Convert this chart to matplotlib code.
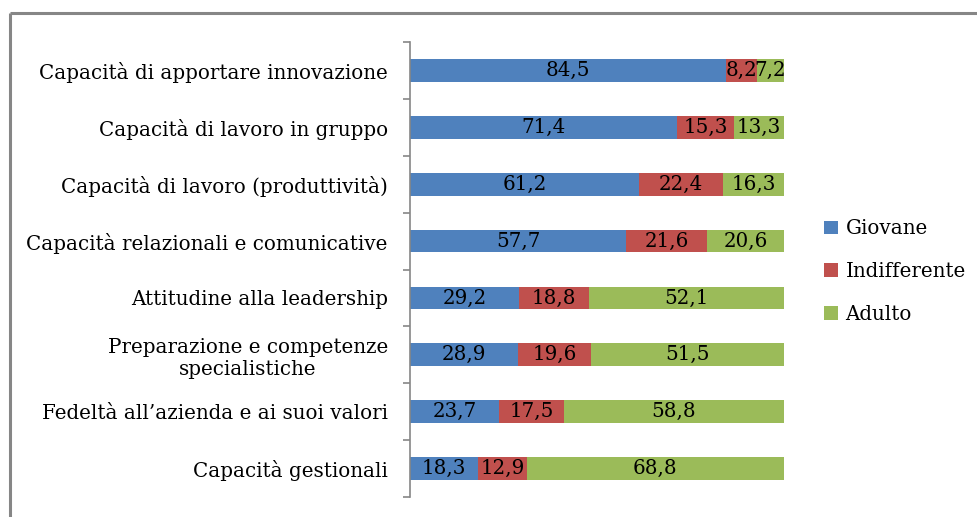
import numpy as np
import matplotlib
matplotlib.use("Agg")
import matplotlib.pyplot as plt
from matplotlib.lines import Line2D

# categories, top to bottom
categories = [
    "Capacità di apportare innovazione",
    "Capacità di lavoro in gruppo",
    "Capacità di lavoro (produttività)",
    "Capacità relazionali e comunicative",
    "Attitudine alla leadership",
    "Preparazione e competenze\nspecialistiche",
    "Fedeltà all’azienda e ai suoi valori",
    "Capacità gestionali",
]
giovane = [84.5, 71.4, 61.2, 57.7, 29.2, 28.9, 23.7, 18.3]
indifferente = [8.2, 15.3, 22.4, 21.6, 18.8, 19.6, 17.5, 12.9]
adulto = [7.2, 13.3, 16.3, 20.6, 52.1, 51.5, 58.8, 68.8]

series_names = ["Giovane", "Indifferente", "Adulto"]
colors = ["#4F81BD", "#C0504D", "#9BBB59"]

plt.rcParams['font.family'] = ['DejaVu Serif']
FS = 14.3

fig = plt.figure(figsize=(9.77, 5.17), dpi=100)
ax = fig.add_axes([410 / 977, 1 - 497 / 517, (784 - 410) / 977, (497 - 42) / 517])

# chart area frame (only top and left edges visible in the reference)
fig.add_artist(Line2D([10 / 977, 10 / 977], [0, 1 - 13 / 517], transform=fig.transFigure,
                      color="#868686", linewidth=2.2, solid_capstyle="butt"))
fig.add_artist(Line2D([10 / 977, 1], [1 - 13 / 517, 1 - 13 / 517], transform=fig.transFigure,
                      color="#868686", linewidth=2.2, solid_capstyle="butt"))

data = np.array([giovane, indifferente, adulto])
totals = data.sum(axis=0)
shares = data / totals * 100  # 100% stacked

y = np.arange(len(categories))
left = np.zeros(len(categories))
for i, name in enumerate(series_names):
    bars = ax.barh(y, shares[i], left=left, height=0.4, color=colors[i], label=name)
    for j, b in enumerate(bars):
        txt = f"{data[i][j]:.1f}".replace(".", ",")
        ax.text(left[j] + shares[i][j] / 2, y[j], txt, ha="center", va="center",
                fontsize=FS, color="black")
    left += shares[i]

ax.set_xlim(0, 100)
ax.set_ylim(len(categories) - 0.5, -0.5)
ax.set_yticks(y)
ax.set_yticklabels(categories, fontsize=FS, ha="right", multialignment="center")
ax.tick_params(axis="y", which="major", length=0, pad=16)
ax.set_yticks(np.arange(-0.5, len(categories), 1), minor=True)
ax.tick_params(axis="y", which="minor", length=5, width=1.2, color="#868686", direction="out")
ax.set_xticks([])

for s in ["top", "right", "bottom"]:
    ax.spines[s].set_visible(False)
ax.spines["left"].set_color("#868686")
ax.spines["left"].set_linewidth(1.2)

ax.legend(loc="center left", bbox_to_anchor=(1.085, 0.495), frameon=False, fontsize=FS,
          handlelength=0.7, handleheight=0.7, handletextpad=0.4, labelspacing=1.2,
          borderaxespad=0)

fig.savefig("out.png", dpi=100)
